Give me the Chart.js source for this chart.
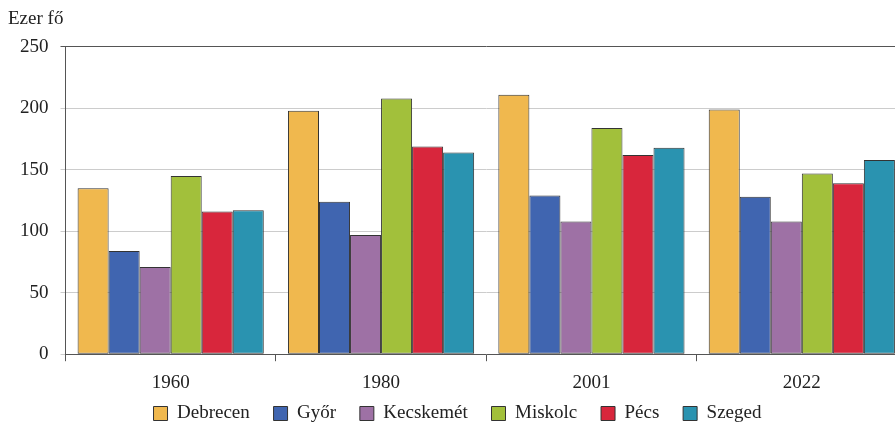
<!DOCTYPE html>
<html>
<head>
<meta charset="utf-8">
<script src="https://cdn.jsdelivr.net/npm/chart.js@4/dist/chart.umd.min.js"></script>
<style>
  body { margin: 0; background: #fff; overflow: hidden; }
  #wrap { width: 907px; height: 423px; }
</style>
</head>
<body>
<div id="wrap"><canvas id="chart" width="907" height="423"></canvas></div>
<script>
const years = ['1960', '1980', '2001', '2022'];
const cities = ['Debrecen', 'Győr', 'Kecskemét', 'Miskolc', 'Pécs', 'Szeged'];
const debrecen = [135, 198, 211, 199];
const gyor = [84, 124, 129, 128];
const kecskemet = [71, 97, 108, 108];
const miskolc = [145, 208, 184, 147];
const pecs = [116, 169, 162, 139];
const szeged = [117, 164, 168, 158];
const colors = ['#F0B84E', '#4065B0', '#9E71A5', '#A2C03B', '#D8263C', '#2A93B0'];

const series = [debrecen, gyor, kecskemet, miskolc, pecs, szeged];
const font = { family: '"Liberation Serif", "DejaVu Serif", serif', size: 19, weight: 'normal' };

const ctx = document.getElementById('chart').getContext('2d');
new Chart(ctx, {
    type: 'bar',
    data: {
        labels: years,
        datasets: series.map((d, i) => ({
            label: cities[i],
            data: d,
            backgroundColor: colors[i],
            borderColor: '#333',
            borderWidth: 1,
            borderSkipped: false,
            categoryPercentage: 0.885,
            barPercentage: 1,
        })),
    },
    options: {
        responsive: false,
        animation: false,
        devicePixelRatio: 1,
        layout: { padding: { left: 8, right: 0, top: 8, bottom: -10 } },
        plugins: {
            title: {
                display: true,
                text: 'Ezer fő',
                align: 'start',
                color: '#222',
                font: font,
                padding: { top: 0, bottom: 16 },
            },
            legend: {
                position: 'bottom',
                labels: {
                    color: '#222',
                    font: font,
                    boxWidth: 14,
                    boxHeight: 14,
                    padding: 0,
                    generateLabels: chart => {
                        const items = Chart.defaults.plugins.legend.labels.generateLabels(chart);
                        items.forEach((it, i) => {
                            it.lineWidth = 1;
                            it.strokeStyle = '#333';
                            if (i < items.length - 1) it.text = it.text + '     ';
                        });
                        return items;
                    },
                },
            },
            tooltip: { enabled: false },
        },
        scales: {
            x: {
                grid: {
                    drawOnChartArea: false,
                    drawTicks: true,
                    tickLength: 7,
                    color: '#555',
                },
                border: { color: '#555', width: 1 },
                ticks: { color: '#222', font: font, padding: 10 },
            },
            y: {
                min: 0,
                max: 250,
                ticks: { stepSize: 50, color: '#222', font: font, padding: 12 },
                grid: {
                    color: c => c.tick.value === 250 ? '#555' : '#ccc',
                    tickLength: 5,
                },
                border: { color: '#555', width: 1 },
            },
        },
    },
});
</script>
</body>
</html>
